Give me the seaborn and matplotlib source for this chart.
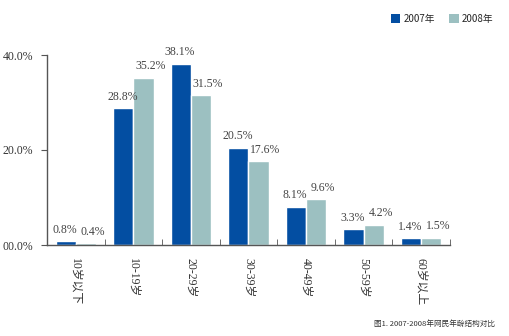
import matplotlib
matplotlib.use("Agg")
import matplotlib.pyplot as plt
import seaborn as sns
import pandas as pd
from matplotlib.patches import Patch

categories = ["10岁以下", "10-19岁", "20-29岁", "30-39岁", "40-49岁", "50-59岁", "60岁以上"]
v2007 = [0.8, 28.8, 38.1, 20.5, 8.1, 3.3, 1.4]
v2008 = [0.4, 35.2, 31.5, 17.6, 9.6, 4.2, 1.5]
series = ["2007年", "2008年"]
yticks = [0, 20, 40]
ytick_labels = ["00.0%", "20.0%", "40.0%"]
caption = "图1. 2007-2008年网民年龄结构对比"

sns.set_style("white")
plt.rcParams['font.family'] = ['Liberation Serif', 'Noto Sans CJK SC']

df = pd.DataFrame({
    "cat": categories * 2,
    "year": [series[0]] * len(categories) + [series[1]] * len(categories),
    "val": v2007 + v2008,
})
colors = {series[0]: "#034EA2", series[1]: "#9CC0C1"}

fig = plt.figure(figsize=(5.1, 3.36), dpi=100)
ax = fig.add_axes([47/510, 1-245/336, (450-47)/510, (245-55)/336])
sns.barplot(data=df, x="cat", y="val", hue="year", palette=colors, width=0.7,
            saturation=1, ax=ax, legend=False, order=categories, hue_order=series)

ax.set_xlim(-0.5, 6.5)
ax.set_ylim(0, 40)
ax.set_xlabel("")
ax.set_ylabel("")
for s in ["top", "right"]:
    ax.spines[s].set_visible(False)
for s in ["left", "bottom"]:
    ax.spines[s].set_color("#555555")
    ax.spines[s].set_linewidth(1.0)

ax.set_yticks(yticks)
ax.set_yticklabels(ytick_labels, fontsize=8.5, color="#333333", family="Liberation Serif")
ax.tick_params(axis="y", direction="out", length=4, color="#555555", pad=6, left=True)

ax.set_xticks(range(len(categories)))
ax.set_xticklabels(categories, rotation=270, fontsize=8.5, color="#333333",
                   family=['Liberation Serif', 'Noto Sans CJK SC'], va="top", ha="center")
ax.tick_params(axis="x", length=0, pad=9)
ax.set_xticks([i + 0.5 for i in range(len(categories))], minor=True)
ax.tick_params(axis="x", which="minor", direction="in", length=4, color="#555555", bottom=True)

offsets = [-1, 7]  # horizontal label offsets in pixels
for cont, dx in zip(ax.containers, offsets):
    for b in cont:
        h = b.get_height()
        ax.annotate(f"{h:.1f}%", (b.get_x() + b.get_width() / 2, h),
                    xytext=(dx * 0.72, 4), textcoords="offset points",
                    ha="center", va="bottom", fontsize=8.5, color="#444444",
                    family="Liberation Serif", annotation_clip=False)

handles = [Patch(facecolor=colors[s], edgecolor="none") for s in series]
fig.legend(handles, series, loc="upper right", bbox_to_anchor=(0.985, 0.985), ncol=2,
           frameon=False, handlelength=1.0, handleheight=1.0,
           handletextpad=0.3, columnspacing=1.5,
           prop={"family": ["Noto Sans CJK SC"], "size": 7})

fig.text(0.97, 0.025, caption, ha="right", va="bottom", fontsize=5.5,
         family=["Noto Sans CJK SC"], color="#333333")

fig.savefig("out.png", dpi=100)
